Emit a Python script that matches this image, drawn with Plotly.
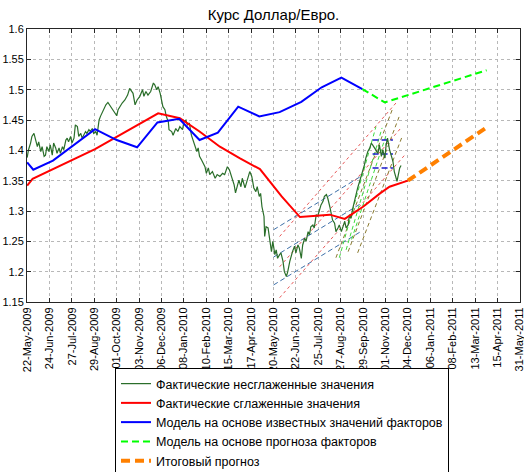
import plotly.graph_objects as go
import pandas as pd

START = pd.Timestamp("2009-05-22")

# x tick labels (every 33 days from the start; last label as in the original)
tick_labels = ["22-May-2009", "24-Jun-2009", "27-Jul-2009", "29-Aug-2009", "01-Oct-2009",
               "03-Nov-2009", "06-Dec-2009", "08-Jan-2010", "10-Feb-2010", "15-Mar-2010",
               "17-Apr-2010", "20-May-2010", "22-Jun-2010", "25-Jul-2010", "27-Aug-2010",
               "29-Sep-2010", "01-Nov-2010", "04-Dec-2010", "06-Jan-2011", "08-Feb-2011",
               "13-Mar-2011", "15-Apr-2011", "31-May-2011"]
y_ticks = [1.15, 1.2, 1.25, 1.3, 1.35, 1.4, 1.45, 1.5, 1.55, 1.6]

# Actual, unsmoothed (days since 22-May-2009, rate)
actual_days = [0, 2, 5, 7, 10, 12, 15, 17, 20, 22, 25, 27, 29, 32, 34, 37, 39, 42, 44, 47,
               49, 52, 54, 57, 59, 61, 64, 66, 69, 71, 74, 76, 79, 81, 84, 86, 88, 91, 93, 96,
               98, 101, 103, 106, 108, 112, 116, 119, 123, 127, 132, 134, 137, 140, 144, 148, 151, 156, 159, 162,
               166, 170, 172, 175, 178, 182, 186, 188, 191, 193, 196, 198, 200, 203, 205, 208, 209, 213, 215, 219,
               222, 225, 229, 231, 234, 236, 239, 242, 245, 247, 250, 252, 254, 257, 259, 262, 264, 267, 269, 273,
               277, 280, 284, 288, 291, 295, 298, 301, 305, 307, 309, 312, 315, 317, 321, 323, 326, 328, 331, 334,
               337, 339, 342, 344, 346, 349, 350, 352, 355, 357, 360, 362, 365, 367, 369, 372, 374, 377, 379, 382,
               384, 387, 389, 391, 394, 396, 399, 401, 404, 406, 409, 411, 414, 416, 418, 421, 423, 426, 428, 431,
               433, 436, 438, 441, 443, 446, 449, 450, 453, 455, 458, 460, 463, 465, 468, 470, 473, 475, 477, 480,
               482, 485, 487, 490, 492, 495, 497, 499, 502, 505, 507, 509, 512, 514, 517, 519, 522, 524, 527, 529,
               531, 534, 536, 539, 541, 544, 545, 547, 549, 551]
actual_vals = [1.388, 1.401, 1.412, 1.423, 1.428, 1.417, 1.406, 1.414, 1.398, 1.406, 1.390, 1.392, 1.406, 1.398, 1.409, 1.392, 1.412, 1.404, 1.395, 1.404,
               1.395, 1.406, 1.401, 1.417, 1.420, 1.414, 1.423, 1.412, 1.420, 1.442, 1.439, 1.423, 1.428, 1.420, 1.428, 1.431, 1.428, 1.434, 1.431, 1.436,
               1.428, 1.431, 1.425, 1.450, 1.456, 1.467, 1.475, 1.479, 1.472, 1.467, 1.457, 1.467, 1.473, 1.478, 1.483, 1.491, 1.502, 1.494, 1.475, 1.483,
               1.489, 1.500, 1.489, 1.497, 1.491, 1.497, 1.511, 1.508, 1.500, 1.505, 1.494, 1.483, 1.472, 1.467, 1.456, 1.447, 1.434, 1.431, 1.425, 1.436,
               1.431, 1.439, 1.434, 1.447, 1.450, 1.442, 1.445, 1.425, 1.414, 1.406, 1.398, 1.404, 1.390, 1.384, 1.379, 1.373, 1.362, 1.371, 1.360, 1.365,
               1.354, 1.360, 1.357, 1.362, 1.360, 1.373, 1.368, 1.358, 1.343, 1.330, 1.340, 1.351, 1.340, 1.354, 1.338, 1.346, 1.360, 1.365, 1.357, 1.338,
               1.332, 1.340, 1.324, 1.329, 1.307, 1.291, 1.258, 1.274, 1.272, 1.253, 1.233, 1.250, 1.228, 1.236, 1.222, 1.228, 1.231, 1.217, 1.200, 1.192,
               1.200, 1.217, 1.228, 1.233, 1.242, 1.231, 1.244, 1.239, 1.222, 1.244, 1.255, 1.250, 1.266, 1.261, 1.274, 1.277, 1.272, 1.294, 1.291, 1.305,
               1.310, 1.316, 1.324, 1.327, 1.321, 1.307, 1.294, 1.285, 1.280, 1.266, 1.272, 1.277, 1.266, 1.274, 1.283, 1.272, 1.277, 1.294, 1.288, 1.305,
               1.316, 1.327, 1.338, 1.349, 1.357, 1.365, 1.376, 1.387, 1.398, 1.404, 1.412, 1.409, 1.404, 1.401, 1.395, 1.409, 1.390, 1.401, 1.387, 1.409,
               1.420, 1.401, 1.392, 1.382, 1.365, 1.351, 1.349, 1.360, 1.371, 1.375]

# Actual, smoothed
smooth_days = [0, 8, 100, 193, 225, 254, 284, 313, 343, 375, 402, 421, 446, 468, 495, 520, 534, 561]
smooth_vals = [1.342, 1.353, 1.402, 1.461, 1.453, 1.431, 1.406, 1.387, 1.369, 1.324, 1.290, 1.292, 1.294, 1.287, 1.307, 1.329, 1.340, 1.350]

# Model on known factor values
model_days = [0, 9, 38, 100, 132, 162, 192, 224, 254, 281, 311, 342, 372, 404, 434, 463, 494]
model_vals = [1.380, 1.368, 1.383, 1.435, 1.417, 1.405, 1.446, 1.452, 1.417, 1.429, 1.472, 1.456, 1.463, 1.480, 1.504, 1.520, 1.501]

# Model on forecast factors
fmodel_days = [494, 527, 677]
fmodel_vals = [1.501, 1.479, 1.532]

# Final forecast
final_days = [561, 680]
final_vals = [1.350, 1.440]

# Trend channel segments
channel_days = {
    "b1": [363, 493], "b2": [363, 493], "b3": [363, 493],
    "r1": [372, 545], "r2": [372, 551], "r3": [372, 557],
    "o1": [455, 539], "o2": [473, 549], "o3": [487, 552],
    "g1": [460, 514], "g2": [470, 523], "g3": [478, 529],
    "h1": [509, 539], "h2": [509, 539], "h3": [509, 539],
}
channel_vals = {
    "b1": [1.269, 1.358], "b2": [1.224, 1.313], "b3": [1.178, 1.267],
    "r1": [1.258, 1.480], "r2": [1.208, 1.437], "r3": [1.157, 1.393],
    "o1": [1.223, 1.470], "o2": [1.233, 1.458], "o3": [1.231, 1.421],
    "g1": [1.223, 1.439], "g2": [1.236, 1.437], "g3": [1.253, 1.425],
    "h1": [1.417, 1.417], "h2": [1.394, 1.394], "h3": [1.371, 1.371],
}
channel_style = {
    "b": dict(color="#3d6fa8", width=1, dash="5px,3px"),
    "r": dict(color="#e85a5a", width=1, dash="3px,3px"),
    "o": dict(color="#8a7a30", width=1, dash="4px,3px"),
    "g": dict(color="#3fdc3f", width=1, dash="4px,3px"),
    "h": dict(color="#1a1acc", width=1.5, dash="6px,3px"),
}


def to_dates(days):
    return [START + pd.Timedelta(days=int(d)) for d in days]


fig = go.Figure()

for key in channel_days:
    fig.add_trace(go.Scatter(x=to_dates(channel_days[key]), y=channel_vals[key], mode="lines",
                             line=channel_style[key[0]], showlegend=False, hoverinfo="skip"))

fig.add_trace(go.Scatter(x=to_dates(actual_days), y=actual_vals, mode="lines",
                         line=dict(color="#2a6e2a", width=1.2),
                         name="Фактические несглаженные значения"))
fig.add_trace(go.Scatter(x=to_dates(smooth_days), y=smooth_vals, mode="lines",
                         line=dict(color="#ff0000", width=2),
                         name="Фактические сглаженные значения"))
fig.add_trace(go.Scatter(x=to_dates(model_days), y=model_vals, mode="lines",
                         line=dict(color="#0000ff", width=2),
                         name="Модель на основе известных значений факторов"))
fig.add_trace(go.Scatter(x=to_dates(fmodel_days), y=fmodel_vals, mode="lines",
                         line=dict(color="#00ff00", width=2, dash="7px,4px"),
                         name="Модель на основе прогноза факторов"))
fig.add_trace(go.Scatter(x=to_dates(final_days), y=final_vals, mode="lines",
                         line=dict(color="#ff8000", width=4, dash="9px,5px"),
                         name="Итоговый прогноз"))

tick_dates = [START + pd.Timedelta(days=33 * i) for i in range(len(tick_labels))]

axis_common = dict(showline=True, linecolor="#262626", linewidth=1, mirror="ticks",
                   ticks="inside", ticklen=4, tickcolor="#262626",
                   showgrid=True, gridcolor="#b8b8b8", griddash="dot", gridwidth=1,
                   zeroline=False, automargin=False, ticklabeloverflow="allow")

fig.update_layout(
    width=524, height=472,
    margin=dict(l=27, r=4, t=29, b=170, autoexpand=False),
    paper_bgcolor="white", plot_bgcolor="white",
    font=dict(family="Liberation Sans, Arial, sans-serif", size=11, color="black"),
    title=dict(text="Курс Доллар/Евро.", x=(27 + 520) / 2 / 524, xanchor="center",
               y=1 - 15 / 472, yanchor="middle", yref="container",
               font=dict(size=15, color="black")),
    xaxis=dict(range=[tick_dates[0] - pd.Timedelta(hours=6), tick_dates[-1] + pd.Timedelta(hours=6)],
               tickvals=tick_dates, ticktext=tick_labels, tickangle=-90, **axis_common),
    yaxis=dict(range=[1.15, 1.6], tickvals=y_ticks, ticktext=[f"{v:g}" for v in y_ticks],
               **axis_common),
    legend=dict(xref="container", yref="container",
                x=115 / 524, y=1 - 368 / 472, xanchor="left", yanchor="top",
                bordercolor="black", borderwidth=1, bgcolor="white",
                font=dict(size=12.5), tracegroupgap=0),
    showlegend=True,
)

fig.write_html("out.html", config={"displayModeBar": False},
               post_script="document.body.style.margin='0';")
